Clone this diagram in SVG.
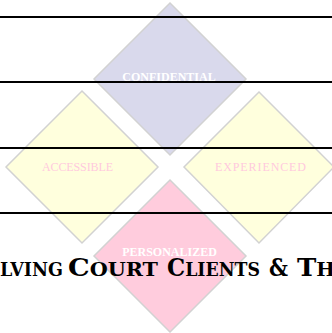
<svg xmlns="http://www.w3.org/2000/svg" width="332" height="333" viewBox="0 0 332 333">
<style>
.dia{stroke:#d2d2d2;stroke-width:1.5}
.lbl{font-family:"Liberation Serif",serif;font-size:12px;text-anchor:middle}
.wb{fill:#ffffff;font-weight:bold}
.pk{fill:#ffc9dd}
.rule{stroke:#000;stroke-width:2}
.ttl{font-family:"DejaVu Serif","Liberation Serif",serif;font-weight:bold;fill:#000;font-size:25px}
.sc{font-size:19px}
</style>
<rect width="332" height="333" fill="#fff"/>
<g id="confidential">
<polygon class="dia" fill="#d9d9ec" points="170,3 246,79 170,155 94,79"/>
<text class="lbl wb" x="169" y="81">CONFIDENTIAL</text>
</g>
<g id="accessible">
<polygon class="dia" fill="#ffffdd" points="82,91 158,167 82,243 6,167"/>
<text class="lbl pk" x="77.5" y="171" textLength="71" lengthAdjust="spacing">ACCESSIBLE</text>
</g>
<g id="experienced">
<polygon class="dia" fill="#ffffdd" points="259,92 334,167 259,243 184,167"/>
<text class="lbl pk" x="260.5" y="171" textLength="91" lengthAdjust="spacing">EXPERIENCED</text>
</g>
<g id="personalized">
<polygon class="dia" fill="#ffccdd" points="170,180 246,256 170,332 94,256"/>
<text class="lbl wb" x="169.5" y="256">PERSONALIZED</text>
</g>
<g id="connectors">
<line class="rule" x1="0" y1="17" x2="332" y2="17"/>
<line class="rule" x1="0" y1="82" x2="332" y2="82"/>
<line class="rule" x1="0" y1="148" x2="332" y2="148"/>
<line class="rule" x1="0" y1="213" x2="332" y2="213"/>
</g>
<g id="title">
<text class="ttl" x="0" y="276" textLength="63" lengthAdjust="spacingAndGlyphs"><tspan class="sc">LVING</tspan></text>
<text class="ttl" x="68" y="276" textLength="90" lengthAdjust="spacingAndGlyphs">C<tspan class="sc">OURT</tspan></text>
<text class="ttl" x="167" y="276" textLength="93" lengthAdjust="spacingAndGlyphs">C<tspan class="sc">LIENTS</tspan></text>
<text class="ttl" x="269" y="276" textLength="19" lengthAdjust="spacingAndGlyphs">&amp;</text>
<text class="ttl" x="297" y="276" textLength="38" lengthAdjust="spacingAndGlyphs">T<tspan class="sc">H</tspan></text>
</g>
</svg>
